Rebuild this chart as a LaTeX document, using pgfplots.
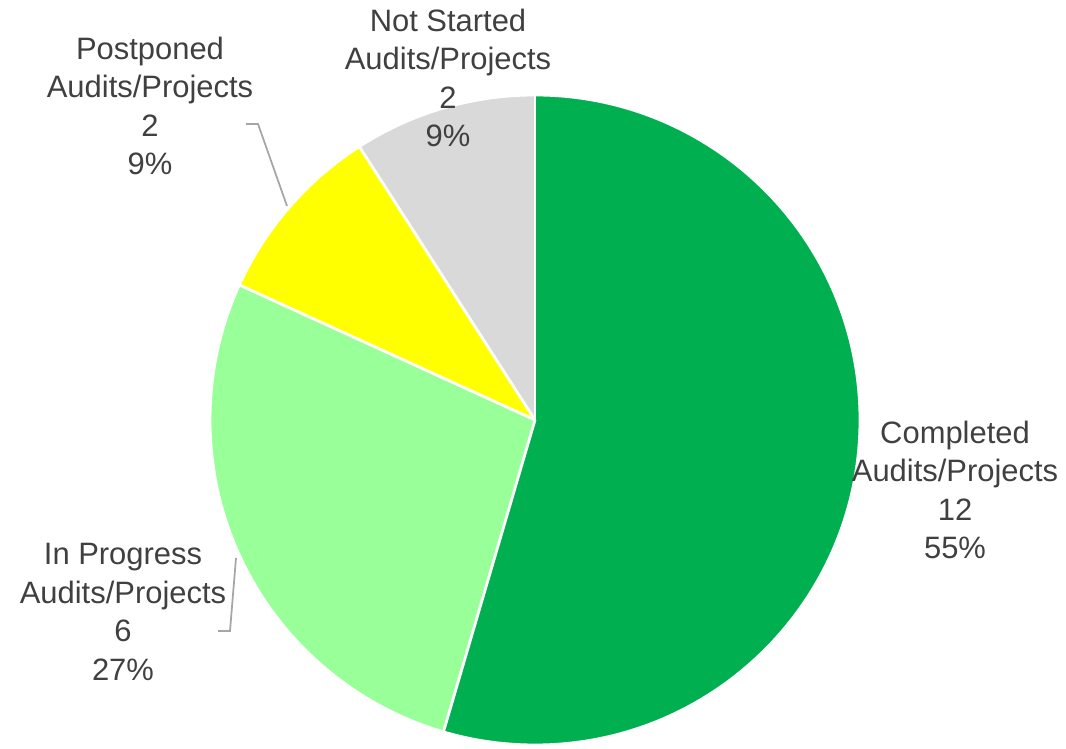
\documentclass[border=0pt]{standalone}
\usepackage{pgfplots}
\usepackage{pgfplotstable}
\pgfplotsset{compat=1.18}
\usepackage{fontspec}
\setmainfont{Liberation Sans}
\definecolor{cCompleted}{HTML}{00B050}
\definecolor{cProgress}{HTML}{99FF99}
\definecolor{cPostponed}{HTML}{FFFF00}
\definecolor{cNotStarted}{HTML}{D9D9D9}
\definecolor{txt}{HTML}{404040}
\definecolor{leader}{HTML}{A6A6A6}

\pgfplotstableread{
status value
Completed 12
InProgress 6
Postponed 2
NotStarted 2
}\piedata

\pgfplotstablegetelem{0}{value}\of\piedata \let\vA\pgfplotsretval
\pgfplotstablegetelem{1}{value}\of\piedata \let\vB\pgfplotsretval
\pgfplotstablegetelem{2}{value}\of\piedata \let\vC\pgfplotsretval
\pgfplotstablegetelem{3}{value}\of\piedata \let\vD\pgfplotsretval
\pgfmathsetmacro\vT{\vA+\vB+\vC+\vD}
\pgfmathsetmacro\aO{90}
\pgfmathsetmacro\aA{90-360*\vA/\vT}
\pgfmathsetmacro\aB{\aA-360*\vB/\vT}
\pgfmathsetmacro\aC{\aB-360*\vC/\vT}
\pgfmathsetmacro\aD{\aC-360*\vD/\vT}

\begin{document}
\begin{tikzpicture}
\begin{axis}[
  width=10.66cm, height=7.48cm, scale only axis,
  xmin=0, xmax=1066, ymin=0, ymax=748,
  hide axis, clip=false,
]
\def\R{3.25cm}
\fill[cCompleted] (axis cs:535,328) -- ++(\aO:\R) arc[start angle=\aO, end angle=\aA, radius=\R] -- cycle;
\fill[cProgress] (axis cs:535,328) -- ++(\aA:\R) arc[start angle=\aA, end angle=\aB, radius=\R] -- cycle;
\fill[cPostponed] (axis cs:535,328) -- ++(\aB:\R) arc[start angle=\aB, end angle=\aC, radius=\R] -- cycle;
\fill[cNotStarted] (axis cs:535,328) -- ++(\aC:\R) arc[start angle=\aC, end angle=\aD, radius=\R] -- cycle;
\draw[white, line width=0.8pt] (axis cs:535,328) -- ++(\aO:\R);
\draw[white, line width=0.8pt] (axis cs:535,328) -- ++(\aA:\R);
\draw[white, line width=0.8pt] (axis cs:535,328) -- ++(\aB:\R);
\draw[white, line width=0.8pt] (axis cs:535,328) -- ++(\aC:\R);
\draw[white, line width=0.8pt] (axis cs:535,328) circle[radius=\R];

\draw[leader, line width=0.5pt] (axis cs:246,624) -- (axis cs:258,624) -- (axis cs:287,542);
\draw[leader, line width=0.5pt] (axis cs:218,117) -- (axis cs:230,117) -- (axis cs:236,190);

\tikzset{lab/.style={align=center, text=txt, font=\fontsize{8.8}{10.95}\selectfont, inner sep=0pt}}
\node[lab] at (axis cs:955,258) {Completed\\Audits/Projects\\12\\55\%};
\node[lab] at (axis cs:448,670) {Not Started\\Audits/Projects\\2\\9\%};
\node[lab] at (axis cs:150,642) {Postponed\\Audits/Projects\\2\\9\%};
\node[lab] at (axis cs:123,136) {In Progress\\Audits/Projects\\6\\27\%};
\end{axis}
\pgfresetboundingbox
\path (0,0) rectangle (10.66cm,7.48cm);
\end{tikzpicture}
\end{document}
